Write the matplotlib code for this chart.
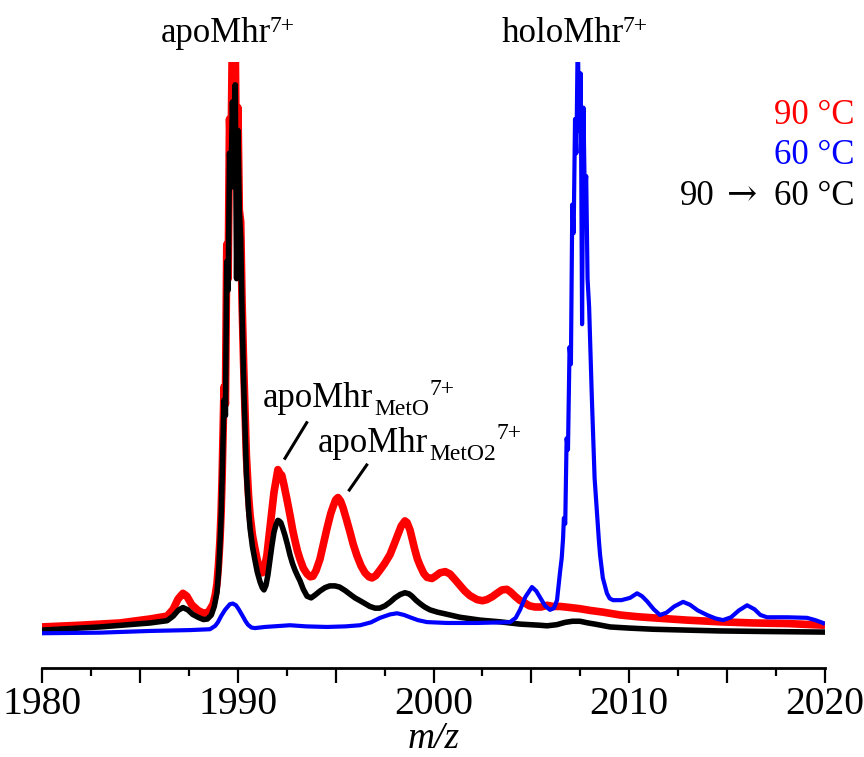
import matplotlib
matplotlib.use("Agg")
import matplotlib.pyplot as plt
from matplotlib.ticker import MultipleLocator, FuncFormatter
from matplotlib.lines import Line2D

plt.rcParams['font.family'] = ['Liberation Serif', 'DejaVu Serif']

# ---- data: (m/z, relative intensity) ----
red_90C = [
    (1980.00, 0.9), (1981.94, 1.2), (1983.98, 1.6), (1985.52, 2.3), (1986.39, 2.8), (1986.70, 4.0),
    (1986.95, 5.8), (1987.20, 6.8), (1987.40, 6.3), (1987.65, 4.8), (1987.97, 3.8), (1988.25, 3.3),
    (1988.50, 3.5), (1988.74, 4.9), (1988.85, 6.5), (1988.94, 8.5), (1989.02, 12.0), (1989.09, 16.0),
    (1989.15, 21.0), (1989.20, 27.0),
    (1989.30, 43), (1989.37, 40), (1989.44, 68), (1989.51, 62), (1989.58, 90), (1989.65, 82),
    (1989.73, 106), (1989.80, 88), (1989.87, 104), (1989.94, 78), (1990.01, 92), (1990.08, 74),
    (1990.15, 72), (1990.22, 58), (1990.30, 47), (1990.37, 39), (1990.44, 31),
    (1990.55, 24.0), (1990.63, 20.5), (1990.75, 17.0), (1990.88, 14.6), (1991.00, 12.6), (1991.14, 11.0),
    (1991.25, 10.4), (1991.35, 11.0), (1991.49, 13.5), (1991.62, 17.5), (1991.75, 21.4), (1991.85, 24.5),
    (1991.95, 26.5), (1992.05, 28.5), (1992.16, 27.8), (1992.25, 27.5), (1992.35, 26.0), (1992.50, 23.5),
    (1992.67, 20.5), (1992.80, 18.0), (1992.92, 16.1), (1993.05, 14.2), (1993.18, 12.8), (1993.35, 11.2),
    (1993.54, 10.2), (1993.70, 9.7), (1993.84, 9.8), (1994.00, 10.8), (1994.20, 12.8), (1994.40, 15.8),
    (1994.56, 18.2), (1994.75, 20.8), (1994.87, 22.0), (1995.00, 23.2), (1995.12, 23.6), (1995.25, 23.0),
    (1995.38, 21.8), (1995.55, 19.8), (1995.73, 17.6), (1995.90, 15.4), (1996.09, 13.4), (1996.30, 11.6),
    (1996.50, 10.4), (1996.70, 9.7), (1996.86, 9.5), (1997.05, 9.9), (1997.27, 10.9), (1997.50, 12.0),
    (1997.78, 13.6), (1998.00, 15.5), (1998.19, 17.2), (1998.35, 18.6), (1998.54, 19.5), (1998.65, 19.2),
    (1998.80, 17.9), (1998.92, 16.2), (1999.05, 14.4), (1999.18, 12.8), (1999.31, 11.7), (1999.50, 10.3),
    (1999.67, 9.6), (1999.92, 9.4), (2000.10, 9.8), (2000.33, 10.4), (2000.60, 10.6), (2000.84, 10.2),
    (2001.10, 9.2), (2001.35, 8.2), (2001.60, 7.2), (2001.86, 6.4), (2002.22, 5.7), (2002.50, 5.5),
    (2002.73, 5.7), (2003.00, 6.2), (2003.24, 6.8), (2003.50, 7.4), (2003.75, 7.5), (2003.95, 7.0),
    (2004.16, 6.3), (2004.40, 5.6), (2004.67, 5.1), (2004.90, 4.6), (2005.19, 4.4), (2005.50, 4.4),
    (2005.80, 4.7), (2006.10, 4.5), (2006.46, 4.5), (2007.00, 4.3), (2007.48, 4.1), (2008.00, 3.8),
    (2008.66, 3.5), (2009.53, 3.0), (2010.40, 2.7), (2011.21, 2.5), (2012.95, 2.1), (2014.64, 1.8),
    (2016.32, 1.6), (2018.06, 1.5), (2020.00, 1.2),
]

blue_60C = [
    (1980.00, -0.2), (1982.96, -0.1), (1985.52, 0.2), (1987.56, 0.35), (1988.58, 0.5), (1988.85, 1.1),
    (1988.99, 1.75), (1989.15, 2.8), (1989.35, 3.9), (1989.60, 4.9), (1989.75, 5.0), (1989.91, 4.7),
    (1990.05, 4.0), (1990.22, 3.0), (1990.40, 1.9), (1990.52, 1.3), (1990.70, 0.8), (1990.88, 0.7),
    (1991.39, 0.9), (1992.67, 1.2), (1993.50, 1.0), (1994.56, 0.9), (1995.50, 1.0), (1996.25, 1.2),
    (1996.80, 1.7), (1997.27, 2.5), (1997.78, 3.1), (1998.14, 3.3), (1998.50, 3.0), (1998.80, 2.6),
    (1999.20, 2.1), (1999.67, 1.75), (2000.69, 1.6), (2002.22, 1.6), (2003.91, 1.75), (2004.20, 2.5),
    (2004.42, 3.9), (2004.70, 6.2), (2005.03, 7.9), (2005.25, 7.2), (2005.44, 6.1), (2005.70, 4.6),
    (2005.95, 3.9), (2006.15, 4.2), (2006.31, 5.6), (2006.46, 10.4), (2006.55, 13.0),
    (2006.62, 16.5), (2006.66, 20), (2006.73, 19), (2006.80, 34), (2006.87, 32), (2006.95, 50),
    (2007.02, 47), (2007.09, 75), (2007.16, 70), (2007.23, 90), (2007.30, 84), (2007.37, 105),
    (2007.44, 88), (2007.52, 98), (2007.59, 54), (2007.66, 92), (2007.73, 76), (2007.80, 80),
    (2007.87, 62), (2007.95, 57), (2008.02, 49), (2008.09, 41), (2008.16, 34), (2008.23, 27),
    (2008.35, 21.0), (2008.45, 16.0), (2008.51, 13.5), (2008.65, 9.5), (2008.86, 6.8), (2009.00, 5.9),
    (2009.17, 5.6), (2009.60, 5.6), (2010.04, 6.0), (2010.40, 6.8), (2010.65, 6.3), (2010.91, 5.4),
    (2011.25, 4.0), (2011.57, 3.0), (2011.90, 3.4), (2012.30, 4.5), (2012.75, 5.3), (2013.10, 4.8),
    (2013.50, 3.8), (2013.97, 3.0), (2014.40, 2.4), (2014.79, 2.1), (2015.20, 2.6), (2015.60, 3.8),
    (2016.02, 4.7), (2016.40, 4.0), (2016.70, 3.0), (2017.04, 2.6), (2018.06, 2.6), (2019.08, 2.5),
    (2019.50, 2.1), (2019.90, 1.6), (2020.00, 1.4),
]

black_90to60C = [
    (1980.00, 0.35), (1982.96, 0.9), (1985.52, 1.6), (1986.39, 2.0), (1986.70, 2.8), (1986.95, 3.8),
    (1987.20, 4.3), (1987.45, 3.9), (1987.70, 3.1), (1987.97, 2.6), (1988.25, 2.2), (1988.45, 2.3),
    (1988.65, 3.0), (1988.80, 4.5), (1988.94, 7.0), (1989.02, 10.5), (1989.09, 15.3), (1989.15, 20.0),
    (1989.20, 26.7),
    (1989.30, 40.7), (1989.37, 38), (1989.44, 65), (1989.51, 60), (1989.58, 84), (1989.65, 78),
    (1989.73, 93), (1989.80, 84), (1989.87, 96), (1989.94, 62), (1990.01, 88), (1990.08, 74),
    (1990.15, 69), (1990.22, 56), (1990.30, 44), (1990.37, 36), (1990.44, 28),
    (1990.55, 21.5), (1990.63, 18.2), (1990.75, 15.0), (1990.88, 12.6), (1991.00, 10.5), (1991.14, 8.8),
    (1991.25, 7.8), (1991.34, 7.4), (1991.44, 8.2), (1991.54, 10.0), (1991.65, 12.8), (1991.75, 15.3),
    (1991.85, 17.5), (1991.95, 18.8), (1992.05, 19.6), (1992.11, 19.5), (1992.20, 19.2), (1992.30, 18.2),
    (1992.41, 17.0), (1992.55, 15.2), (1992.67, 13.5), (1992.80, 12.0), (1992.92, 10.9), (1993.05, 9.9),
    (1993.18, 9.0), (1993.35, 7.5), (1993.54, 6.3), (1993.75, 6.0), (1993.95, 6.5), (1994.20, 7.2),
    (1994.46, 7.8), (1994.70, 8.1), (1994.97, 8.1), (1995.20, 7.9), (1995.48, 7.3), (1995.75, 6.6),
    (1995.99, 6.0), (1996.25, 5.5), (1996.50, 5.0), (1996.75, 4.5), (1997.01, 4.2), (1997.25, 4.2),
    (1997.52, 4.6), (1997.80, 5.3), (1998.03, 6.0), (1998.30, 6.6), (1998.54, 6.9), (1998.75, 6.7),
    (1998.90, 6.3), (1999.10, 5.6), (1999.31, 5.0), (1999.55, 4.4), (1999.82, 3.9), (2000.20, 3.5),
    (2000.59, 3.2), (2001.35, 2.6), (2002.38, 2.1), (2003.40, 1.8), (2004.42, 1.4), (2005.44, 1.2),
    (2005.80, 1.1), (2006.30, 1.3), (2006.72, 1.7), (2007.10, 1.9), (2007.48, 1.9), (2007.90, 1.6),
    (2008.25, 1.4), (2009.02, 0.9), (2010.00, 0.7), (2011.21, 0.5), (2012.90, 0.35), (2014.64, 0.2),
    (2017.00, 0.1), (2020.00, 0.0),
]

x_ticks_labeled = [1980, 1990, 2000, 2010, 2020]
legend_labels = ['90 °C', '60 °C']
legend_colors = ['#ff0000', '#0000ff']

# ---- figure ----
fig = plt.figure(figsize=(8.64, 7.57), dpi=100)
ax = fig.add_axes([42/864, 89/757, 783/864, 606/757])

for series, col, lw, z in [(red_90C, '#ff0000', 5.5, 2),
                           (black_90to60C, '#000000', 4.0, 3),
                           (blue_60C, '#0000ff', 3.0, 4)]:
    mz = [p[0] for p in series]
    inten = [p[1] for p in series]
    ax.plot(mz, inten, color=col, lw=lw, solid_joinstyle='round', solid_capstyle='butt', zorder=z)

ax.set_xlim(1980, 2020)
ax.set_ylim(-6.3, 100)
for s in ['top', 'right', 'left']:
    ax.spines[s].set_visible(False)
ax.spines['bottom'].set_linewidth(2.0)
ax.set_yticks([])

ax.xaxis.set_major_locator(MultipleLocator(5))
ax.xaxis.set_minor_locator(MultipleLocator(2.5))
ax.xaxis.set_major_formatter(FuncFormatter(
    lambda v, p: f"{int(round(v))}" if int(round(v)) in x_ticks_labeled else ""))
ax.tick_params(axis='x', which='major', direction='out', length=11, width=1.6,
               labelsize=28.5, pad=2)
ax.tick_params(axis='x', which='minor', direction='out', length=6, width=1.6)
ax.set_xlabel('m/z', fontsize=27, style='italic', labelpad=-1)


# ---- labels with sub/superscripts ----
def fy(ypix):
    return 1 - ypix / 757


def label(x_px, base_px, main, sub=None, sup='7+', sub_drop=8, sup_rise=10, sup_dx=0.5):
    t = fig.text(x_px / 864, fy(base_px), main, fontsize=25, ha='left', va='baseline')
    anchor = t
    if sub is not None:
        anchor = ax.annotate(sub, xy=(1.0, fy(base_px)), xycoords=(t, 'figure fraction'),
                             xytext=(0.5, -sub_drop * 0.72), textcoords='offset points',
                             fontsize=17, ha='left', va='baseline', annotation_clip=False)
    ax.annotate(sup, xy=(1.0, fy(base_px)), xycoords=(anchor, 'figure fraction'),
                xytext=(sup_dx, sup_rise * 0.72), textcoords='offset points',
                fontsize=17, ha='left', va='baseline', annotation_clip=False)


label(161, 42, 'apoMhr', sup_rise=10, sup_dx=-1.5)
label(502, 42, 'holoMhr', sup_rise=10, sup_dx=-1.5)
label(263, 407, 'apoMhr', sub='MetO', sub_drop=8, sup_rise=12)
label(318, 452, 'apoMhr', sub='MetO2', sub_drop=8, sup_rise=13)

# leader lines
fig.add_artist(Line2D([306.7/864, 285/864], [fy(422.7), fy(458.3)],
                      color='black', lw=2.2, transform=fig.transFigure))
fig.add_artist(Line2D([366.7/864, 349.3/864], [fy(465), fy(490)],
                      color='black', lw=2.2, transform=fig.transFigure))

# legend text
for i, (lab, col) in enumerate(zip(legend_labels, legend_colors)):
    fig.text(855/864, fy(124 + 40.5*i), lab, color=col, fontsize=25, ha='right', va='baseline')
fig.text(680/864, fy(205), '90', color='black', fontsize=25, ha='left', va='baseline')
fig.text(742/864, fy(205), '→', color='black', fontsize=26, ha='center', va='baseline',
         family=['DejaVu Serif'])
fig.text(855/864, fy(205), '60 °C', color='black', fontsize=25, ha='right', va='baseline')

fig.savefig('out.png', dpi=100)
